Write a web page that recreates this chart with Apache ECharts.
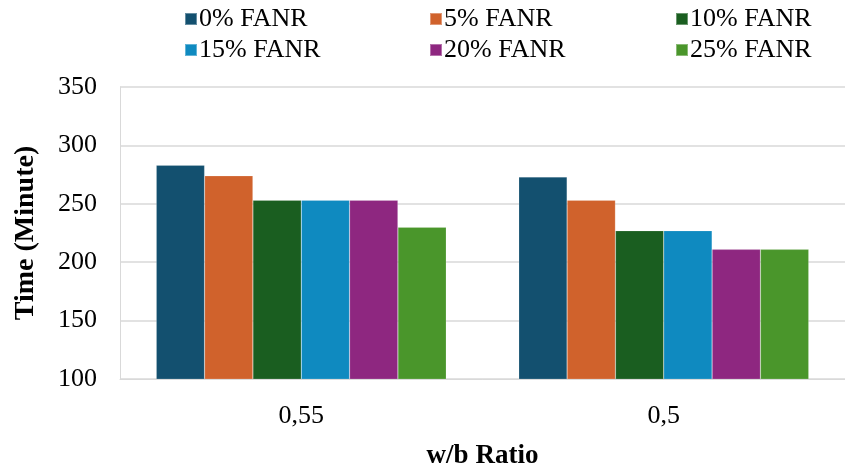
<!DOCTYPE html>
<html>
<head>
<meta charset="utf-8">
<script src="https://cdn.jsdelivr.net/npm/echarts@6/dist/echarts.min.js"></script>
<style>
  html, body { margin: 0; padding: 0; background: #ffffff; }
  #chart { width: 845px; height: 475px; }
</style>
</head>
<body>
<div id="chart"></div>
<script>
// w/b ratio categories and setting times for each FANR replacement level
const categories = ['0,55', '0,5'];
const seriesNames = ['0% FANR', '5% FANR', '10% FANR', '15% FANR', '20% FANR', '25% FANR'];
const fanr0  = [283, 273];
const fanr5  = [274, 253];
const fanr10 = [253, 227];
const fanr15 = [253, 227];
const fanr20 = [253, 211];
const fanr25 = [230, 211];
const yTicks = { min: 100, max: 350, interval: 50 };

const seriesValues = [fanr0, fanr5, fanr10, fanr15, fanr20, fanr25];
const colors = ['#13506f', '#d0622c', '#1a5e20', '#0f8ac0', '#8e2780', '#4a962b'];
const font = 'Liberation Serif, Times New Roman, serif';

const chart = echarts.init(document.getElementById('chart'), null, { renderer: 'canvas' });

// three legend columns, two entries each
const legendColumns = [[0, 3], [1, 4], [2, 5]];
const legendLefts = [184, 429, 675];
const legends = legendColumns.map((idx, i) => ({
  show: true,
  orient: 'vertical',
  left: legendLefts[i],
  top: 6,
  padding: 0,
  itemWidth: 12,
  itemHeight: 12,
  itemGap: 5,
  icon: 'rect',
  data: idx.map(k => seriesNames[k]),
  textStyle: { fontFamily: font, fontSize: 26, color: '#000', padding: [0, 0, 0, -3] }
}));

chart.setOption({
  animation: false,
  backgroundColor: '#ffffff',
  legend: legends,
  grid: { left: 120, right: -6, top: 87, bottom: 93, containLabel: false },
  xAxis: {
    type: 'category',
    data: categories,
    name: 'w/b Ratio',
    nameLocation: 'middle',
    nameGap: 64,
    nameTextStyle: { fontFamily: font, fontSize: 27, fontWeight: 'bold', color: '#000' },
    axisLine: { show: true, lineStyle: { color: '#d9d9d9', width: 1 } },
    axisTick: { show: false },
    axisLabel: { fontFamily: font, fontSize: 26, color: '#000', margin: 24 }
  },
  yAxis: {
    type: 'value',
    min: yTicks.min,
    max: yTicks.max,
    interval: yTicks.interval,
    name: 'Time (Minute)',
    nameLocation: 'middle',
    nameGap: 80,
    nameTextStyle: { fontFamily: font, fontSize: 28, fontWeight: 'bold', color: '#000' },
    axisLine: { show: true, lineStyle: { color: '#d9d9d9', width: 1 } },
    axisTick: { show: false },
    axisLabel: { fontFamily: font, fontSize: 26, color: '#000', margin: 23 },
    splitLine: { show: true, lineStyle: { color: '#d9d9d9', width: 1.5 } }
  },
  series: seriesNames.map((name, i) => ({
    name: name,
    type: 'bar',
    data: seriesValues[i],
    barGap: '0%',
    barCategoryGap: '20%',
    itemStyle: { color: colors[i], borderColor: 'rgba(255,255,255,0.35)', borderWidth: 0.5 }
  }))
});
</script>
</body>
</html>
